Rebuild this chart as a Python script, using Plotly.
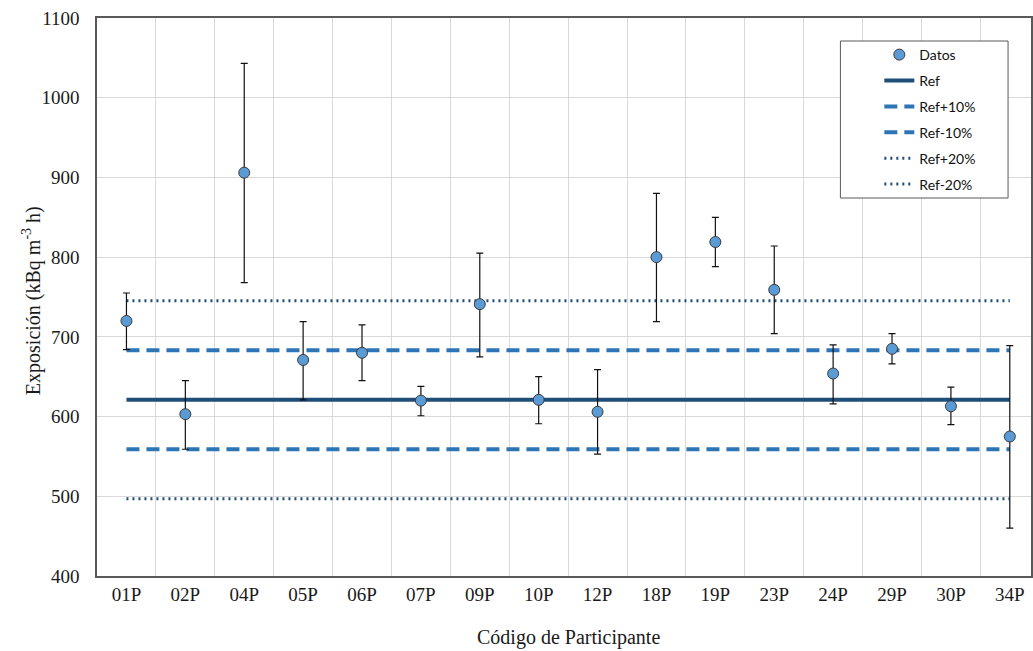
import plotly.graph_objects as go

# ---- data ----
participants = ["01P", "02P", "04P", "05P", "06P", "07P", "09P", "10P",
                "12P", "18P", "19P", "23P", "24P", "29P", "30P", "34P"]
exposure = [720, 603, 906, 671, 680, 620, 741, 621, 606, 800, 819, 759, 654, 685, 613, 575]
upper = [755, 645, 1043, 719, 715, 638, 805, 650, 659, 880, 850, 814, 690, 704, 637, 689]
lower = [684, 559, 768, 621, 645, 601, 675, 591, 553, 719, 788, 704, 616, 666, 590, 460]
ref_value = 621
y_ticks = [400, 500, 600, 700, 800, 900, 1000, 1100]

err_plus = [u - v for u, v in zip(upper, exposure)]
err_minus = [v - l for v, l in zip(exposure, lower)]

W, H = 1033, 651
L, R, T, B = 97, 0, 18, 75
pw, ph = W - L - R, H - T - B


def px_x(x):
    return (x - L) / pw


def px_y(y):
    return (H - B - y) / ph


serif = "Liberation Serif"
navy = "#1F4E79"
blue = "#2E75B6"

fig = go.Figure()
xs = [participants[0], participants[-1]]

lines = [
    ("Ref", ref_value, navy, 4, "solid", 2),
    ("Ref+10%", ref_value * 1.1, blue, 4, "13px,7px", 3),
    ("Ref-10%", ref_value * 0.9, blue, 4, "13px,7px", 4),
    ("Ref+20%", ref_value * 1.2, navy, 3, "2px,4px", 5),
    ("Ref-20%", ref_value * 0.8, navy, 3, "2px,4px", 6),
]
for name, val, col, w, dash, rank in lines:
    fig.add_trace(go.Scatter(
        x=xs, y=[val, val], mode="lines", name=name,
        line=dict(color=col, width=w, dash=dash),
        legendgroup=name, legendrank=rank, hoverinfo="skip"))

fig.add_trace(go.Scatter(
    x=participants, y=exposure, mode="markers", name="Datos",
    marker=dict(symbol="circle", size=11, color="#5B9BD5",
                line=dict(color="#3A3A3A", width=1)),
    error_y=dict(type="data", symmetric=False, array=err_plus, arrayminus=err_minus,
                 color="#111111", thickness=1.2, width=3.5),
    legendgroup="Datos", legendrank=1))

fig.update_layout(
    width=W, height=H,
    margin=dict(l=L, r=R, t=T, b=B),
    paper_bgcolor="white", plot_bgcolor="white",
    showlegend=True,
    legend=dict(x=px_x(881), y=px_y(39), xanchor="left", yanchor="top",
                bgcolor="rgba(0,0,0,0)", borderwidth=0,
                font=dict(family="Lato", size=14, color="#111111"),
                traceorder="grouped", tracegroupgap=4.7),
    xaxis=dict(type="category", categoryorder="array", categoryarray=participants,
               range=[-0.5, 15.36], tickson="boundaries",
               showgrid=True, gridcolor="#D9D9D9", gridwidth=1,
               showline=True, linecolor="#595959", linewidth=2, mirror=True,
               ticks="outside", ticklen=12, tickcolor="rgba(0,0,0,0)",
               tickfont=dict(family=serif, size=19, color="#1a1a1a"),
               zeroline=False),
    yaxis=dict(range=[400, 1100], tickvals=y_ticks,
               showgrid=True, gridcolor="#D9D9D9", gridwidth=1,
               showline=True, linecolor="#595959", linewidth=1.5, mirror=True,
               ticks="outside", ticklen=12, tickcolor="rgba(0,0,0,0)",
               tickfont=dict(family=serif, size=19, color="#1a1a1a"),
               zeroline=False),
    shapes=[dict(type="rect", xref="paper", yref="paper",
                 x0=px_x(842), x1=px_x(1010), y0=px_y(198), y1=px_y(41),
                 line=dict(color="#595959", width=1), fillcolor="white", layer="above")],
    annotations=[
        dict(text="Exposición (kBq m<sup>-3</sup> h)", xref="paper", yref="paper",
             x=px_x(31), y=px_y(301), xanchor="center", yanchor="middle",
             textangle=-90, showarrow=False,
             font=dict(family=serif, size=20, color="#1a1a1a")),
        dict(text="Código de Participante", xref="paper", yref="paper",
             x=px_x(570), y=px_y(637), xanchor="center", yanchor="middle",
             showarrow=False, font=dict(family=serif, size=20, color="#1a1a1a")),
    ],
)

fig.write_html("out.html")
